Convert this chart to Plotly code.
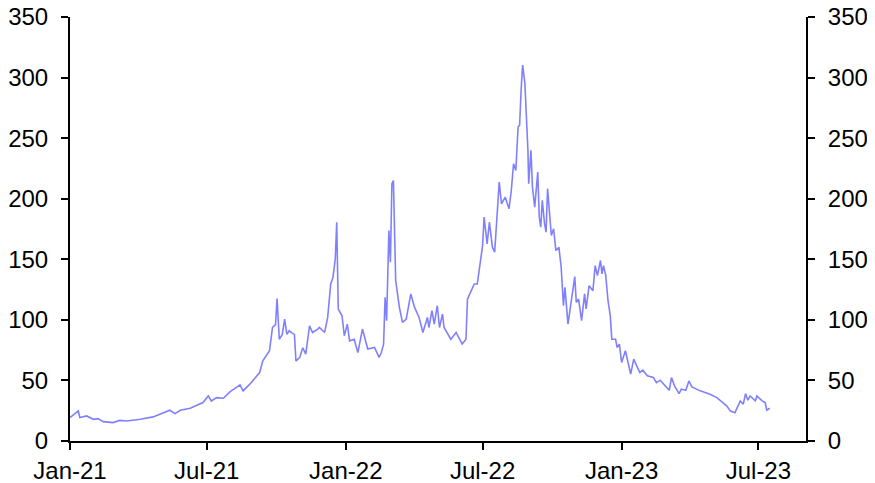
import plotly.graph_objects as go

dates = [
    "2021-01-01", "2021-01-12", "2021-01-14", "2021-01-23", "2021-02-01", "2021-02-07", "2021-02-14",
    "2021-02-27", "2021-03-08", "2021-03-17", "2021-04-04", "2021-04-21", "2021-05-13", "2021-05-20",
    "2021-05-27", "2021-06-09", "2021-06-26", "2021-07-03", "2021-07-07", "2021-07-14", "2021-07-23",
    "2021-08-01", "2021-08-14", "2021-08-18", "2021-08-27", "2021-09-09", "2021-09-13", "2021-09-22",
    "2021-09-26", "2021-09-30", "2021-10-02", "2021-10-05", "2021-10-09", "2021-10-12", "2021-10-15",
    "2021-10-18", "2021-10-22", "2021-10-25", "2021-10-27", "2021-11-01", "2021-11-05", "2021-11-09",
    "2021-11-14", "2021-11-18", "2021-11-25", "2021-11-27", "2021-12-04", "2021-12-08", "2021-12-12",
    "2021-12-15", "2021-12-18", "2021-12-20", "2021-12-22", "2021-12-27", "2021-12-30", "2022-01-03",
    "2022-01-06", "2022-01-12", "2022-01-17", "2022-01-23", "2022-01-30", "2022-02-08", "2022-02-14",
    "2022-02-17", "2022-02-20", "2022-02-22", "2022-02-24", "2022-02-27", "2022-03-01", "2022-03-03",
    "2022-03-05", "2022-03-07", "2022-03-08", "2022-03-13", "2022-03-17", "2022-03-22", "2022-03-28",
    "2022-04-02", "2022-04-08", "2022-04-13", "2022-04-19", "2022-04-21", "2022-04-25", "2022-04-28",
    "2022-05-02", "2022-05-05", "2022-05-09", "2022-05-11", "2022-05-20", "2022-05-27", "2022-06-04",
    "2022-06-09", "2022-06-11", "2022-06-15", "2022-06-20", "2022-06-24", "2022-07-01", "2022-07-03",
    "2022-07-07", "2022-07-10", "2022-07-14", "2022-07-17", "2022-07-23", "2022-07-26", "2022-07-31",
    "2022-08-05", "2022-08-08", "2022-08-11", "2022-08-14", "2022-08-17", "2022-08-19", "2022-08-21",
    "2022-08-23", "2022-08-26", "2022-08-30", "2022-08-31", "2022-09-03", "2022-09-05", "2022-09-08",
    "2022-09-12", "2022-09-14", "2022-09-16", "2022-09-18", "2022-09-21", "2022-09-23", "2022-09-25",
    "2022-09-28", "2022-09-30", "2022-10-03", "2022-10-06", "2022-10-10", "2022-10-13", "2022-10-16",
    "2022-10-18", "2022-10-22", "2022-10-26", "2022-10-28", "2022-10-31", "2022-11-02", "2022-11-05",
    "2022-11-09", "2022-11-13", "2022-11-15", "2022-11-19", "2022-11-24", "2022-11-27", "2022-11-30",
    "2022-12-04", "2022-12-06", "2022-12-08", "2022-12-11", "2022-12-14", "2022-12-17", "2022-12-19",
    "2022-12-24", "2022-12-26", "2022-12-29", "2023-01-01", "2023-01-06", "2023-01-13", "2023-01-17",
    "2023-01-25", "2023-01-29", "2023-02-04", "2023-02-12", "2023-02-16", "2023-02-21", "2023-03-01",
    "2023-03-05", "2023-03-08", "2023-03-12", "2023-03-18", "2023-03-21", "2023-03-27", "2023-03-31",
    "2023-04-04", "2023-04-15", "2023-04-28", "2023-05-07", "2023-05-20", "2023-05-25", "2023-05-31",
    "2023-06-03", "2023-06-07", "2023-06-11", "2023-06-14", "2023-06-17", "2023-06-20", "2023-06-27",
    "2023-06-29", "2023-07-06", "2023-07-10", "2023-07-12", "2023-07-16",
]

prices = [
    19.3, 24.8, 19.3, 20.7, 17.9, 18.5, 16.0,
    15.2, 17.0, 16.5, 17.9, 19.9, 25.4, 22.6,
    25.4, 27.0, 31.7, 37.2, 33.0, 35.8, 35.3,
    40.8, 46.3, 41.4, 46.9, 56.5, 66.0, 74.5,
    93.7, 96.0, 117.5, 84.0, 88.0, 100.7, 88.0,
    91.0, 89.0, 88.0, 66.0, 69.0, 77.0, 71.7,
    95.0, 89.6, 92.4, 93.7, 89.6, 102.0, 129.6,
    135.0, 150.0, 180.6, 109.0, 103.4, 86.9, 96.5,
    82.7, 84.0, 73.0, 92.4, 75.9, 77.2, 69.0,
    73.0, 80.0, 118.6, 99.3, 173.8, 147.5, 212.4,
    215.0, 135.0, 132.4, 110.0, 97.9, 100.7, 121.4,
    110.3, 102.0, 89.6, 102.0, 93.7, 107.6, 96.5,
    111.7, 93.7, 104.8, 93.7, 84.0, 89.6, 80.0,
    84.0, 117.0, 122.7, 129.6, 129.6, 161.3, 184.8,
    162.7, 180.6, 160.0, 155.8, 213.7, 195.8, 201.3,
    191.7, 206.9, 228.9, 223.4, 259.2, 260.6, 290.0,
    310.3, 295.0, 240.0, 212.4, 240.0, 209.6, 193.0,
    222.0, 184.8, 176.5, 198.6, 179.3, 172.4, 208.3,
    184.8, 169.6, 175.2, 157.2, 160.0, 143.4, 111.7,
    126.8, 96.5, 113.1, 121.4, 135.7, 114.4, 117.2,
    99.3, 121.4, 109.0, 128.2, 124.1, 144.8, 136.5,
    149.0, 137.9, 144.8, 136.5, 115.8, 103.4, 84.0,
    84.0, 77.2, 80.0, 64.8, 74.5, 55.2, 67.6,
    56.5, 58.5, 53.8, 52.4, 48.2, 50.2, 44.1,
    41.9, 52.4, 45.5, 39.1, 42.8, 41.9, 49.6,
    44.7, 41.4, 38.6, 35.8, 29.0, 24.8, 23.4,
    27.6, 33.1, 30.4, 39.1, 33.7, 37.2, 33.1,
    37.2, 33.1, 31.7, 25.4, 27.0,
]

tick_dates = ["2021-01-01", "2021-07-01", "2022-01-01", "2022-07-01", "2023-01-01", "2023-07-01"]
tick_labels = ["Jan-21", "Jul-21", "Jan-22", "Jul-22", "Jan-23", "Jul-23"]
y_ticks = [0, 50, 100, 150, 200, 250, 300, 350]

font = dict(family="Liberation Sans, Arial, sans-serif", size=24, color="#000000")

fig = go.Figure()
fig.add_trace(go.Scatter(x=dates, y=prices, mode="lines",
                         line=dict(color="#8080FF", width=1.6), showlegend=False))
fig.add_trace(go.Scatter(x=dates, y=prices, mode="lines", yaxis="y2", opacity=0,
                         line=dict(color="#8080FF", width=1.6), showlegend=False, hoverinfo="skip"))

axis_common = dict(showgrid=False, zeroline=False, showline=True, linecolor="#000000", linewidth=2,
                   ticks="outside", ticklen=7, tickwidth=2, tickcolor="#000000", tickfont=font,
                   automargin=False, ticklabeloverflow="allow")

fig.update_layout(
    width=867, height=475,
    margin=dict(l=62, r=69, t=9, b=42),
    plot_bgcolor="#FFFFFF", paper_bgcolor="#FFFFFF",
    xaxis=dict(range=["2021-01-01", "2023-09-02"], tickvals=tick_dates, ticktext=tick_labels, **axis_common),
    yaxis=dict(range=[0, 350], tickvals=y_ticks, ticklabelstandoff=8, **axis_common),
    yaxis2=dict(range=[0, 350], tickvals=y_ticks, overlaying="y", side="right",
                ticklabelstandoff=8, **axis_common),
)

fig.write_html("out.html")
